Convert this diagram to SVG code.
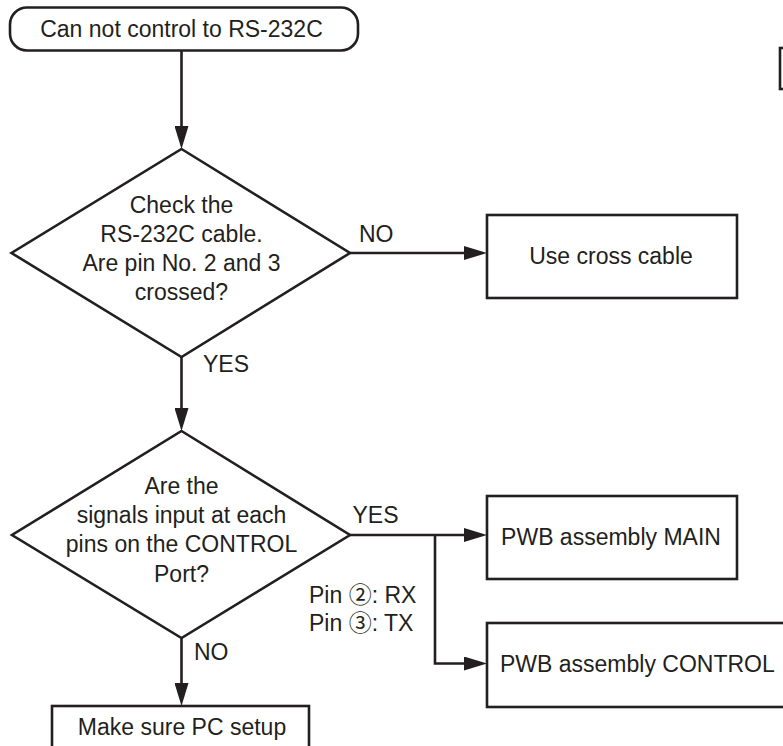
<svg xmlns="http://www.w3.org/2000/svg" width="783" height="746" viewBox="0 0 783 746">
<style>
.s{fill:#fff;stroke:#231f20;stroke-width:2.6}
.c{fill:none;stroke:#231f20;stroke-width:2.6}
text{font-family:"Liberation Sans","Noto Sans CJK JP",sans-serif;font-size:23px;fill:#231f20}
.m{text-anchor:middle}
</style>
<defs>
<marker id="ah" markerUnits="userSpaceOnUse" markerWidth="24" markerHeight="14" refX="1" refY="7" orient="auto" viewBox="0 0 24 14">
<path d="M0,0 L23,7 L0,14 z" fill="#231f20"/>
</marker>
</defs>
<g id="connectors">
<line class="c" x1="181.5" y1="50.5" x2="181.5" y2="127" marker-end="url(#ah)"/>
<line class="c" x1="181.5" y1="357" x2="181.5" y2="409" marker-end="url(#ah)"/>
<line class="c" x1="350" y1="253" x2="465" y2="253" marker-end="url(#ah)"/>
<line class="c" x1="350" y1="535" x2="465" y2="535" marker-end="url(#ah)"/>
<path class="c" d="M435,535 V663.5 H465" marker-end="url(#ah)"/>
<line class="c" x1="181.5" y1="638" x2="181.5" y2="684" marker-end="url(#ah)"/>
<text x="359" y="242">NO</text>
<text x="203" y="372">YES</text>
<text x="352.5" y="523">YES</text>
<text x="194" y="660">NO</text>
<text x="309" y="603">Pin ②: RX</text>
<text x="309" y="631">Pin ③: TX</text>
</g>
<g id="start">
<rect class="s" x="10" y="7.5" width="348" height="43" rx="17" ry="17"/>
<text class="m" x="181.5" y="37">Can not control to RS-232C</text>
</g>
<g id="check-cable">
<polygon class="s" points="181.5,149 350,253 181.5,357 11.5,253"/>
<text class="m" x="181.5" y="213">Check the</text>
<text class="m" x="181.5" y="242">RS-232C cable.</text>
<text class="m" x="181.5" y="271">Are pin No. 2 and 3</text>
<text class="m" x="181.5" y="300">crossed?</text>
</g>
<g id="cross-cable">
<rect class="s" x="487" y="215" width="250" height="83"/>
<text class="m" x="611" y="264">Use cross cable</text>
</g>
<g id="check-signals">
<polygon class="s" points="181.5,431 350,535 181.5,638 12,535"/>
<text class="m" x="181.5" y="493.5">Are the</text>
<text class="m" x="181.5" y="522.5">signals input at each</text>
<text class="m" x="181.5" y="552">pins on the CONTROL</text>
<text class="m" x="181.5" y="581.5">Port?</text>
</g>
<g id="pwb-main">
<rect class="s" x="487" y="496" width="250" height="83"/>
<text class="m" x="611" y="545">PWB assembly MAIN</text>
</g>
<g id="pwb-control">
<rect class="s" x="487" y="623" width="302" height="84"/>
<text x="500" y="672">PWB assembly CONTROL</text>
</g>
<g id="pc-setup">
<rect class="s" x="52" y="706" width="257" height="83"/>
<text class="m" x="182" y="735">Make sure PC setup</text>
</g>
<g id="partial-box">
<rect class="s" x="780" y="48" width="40" height="41"/>
</g>
</svg>
